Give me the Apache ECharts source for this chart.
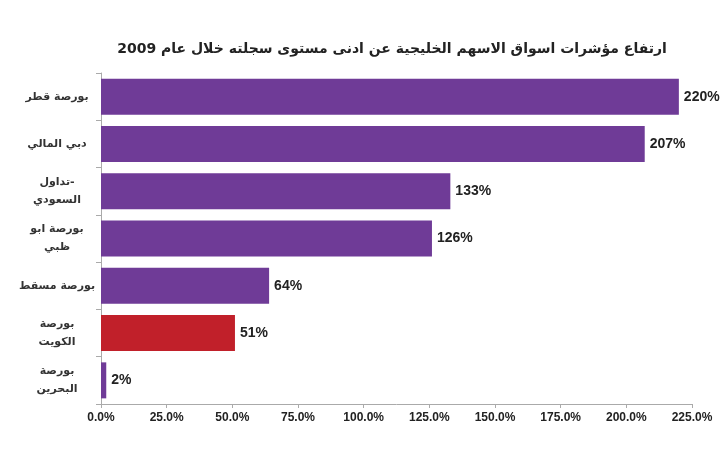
<!DOCTYPE html>
<html>
<head>
<meta charset="utf-8">
<script src="https://cdn.jsdelivr.net/npm/echarts@6/dist/echarts.min.js"></script>
<style>
  html, body { margin: 0; padding: 0; background: #fff; }
  #chart { width: 722px; height: 450px; }
</style>
</head>
<body>
<div id="chart"></div>
<script>
// 市场名称（从上到下）
let markets = ['بورصة قطر', 'دبي المالي', 'تداول-\nالسعودي', 'بورصة ابو\nظبي', 'بورصة مسقط', 'بورصة\nالكويت', 'بورصة\nالبحرين']
// 涨幅 %
let rises = [220, 207, 133, 126, 64, 51, 2]
// 需要高亮的市场
let highlighted = ['بورصة\nالكويت']
let xTicks = [0, 25, 50, 75, 100, 125, 150, 175, 200, 225]

let purple = '#6f3b97'
let red = '#c1202a'

let chart = echarts.init(document.getElementById('chart'))
chart.setOption({
  animation: false,
  title: {
    text: 'ارتفاع مؤشرات اسواق الاسهم الخليجية عن ادنى مستوى سجلته خلال عام 2009',
    left: 387,
    textAlign: 'center',
    top: 37,
    textStyle: { fontFamily: 'DejaVu Sans', fontSize: 14, fontWeight: 'bold', color: '#222' }
  },
  grid: { left: 101, right: 30, top: 73, bottom: 46 },
  xAxis: {
    type: 'value',
    min: xTicks[0],
    max: xTicks[xTicks.length - 1],
    interval: 25,
    splitLine: { show: false },
    axisLine: { show: true, lineStyle: { color: '#aaa' } },
    axisTick: { show: true, length: 4, lineStyle: { color: '#aaa' } },
    axisLabel: {
      margin: 8,
      fontFamily: 'Liberation Sans',
      fontSize: 12,
      fontWeight: 'bold',
      color: '#222',
      formatter: v => v.toFixed(1) + '%'
    }
  },
  yAxis: {
    type: 'category',
    inverse: true,
    data: markets,
    axisLine: { show: true, lineStyle: { color: '#aaa' } },
    axisTick: { show: true, length: 5, lineStyle: { color: '#aaa' } },
    axisLabel: {
      align: 'center',
      margin: 44,
      lineHeight: 18,
      fontFamily: 'DejaVu Sans',
      fontSize: 11,
      fontWeight: 'bold',
      color: '#333'
    }
  },
  series: [
    {
      type: 'bar',
      barWidth: 36,
      data: rises.map((v, i) => ({
        value: v,
        itemStyle: { color: highlighted.includes(markets[i]) ? red : purple }
      })),
      label: {
        show: true,
        position: 'right',
        distance: 5,
        fontFamily: 'Liberation Sans',
        fontSize: 14,
        fontWeight: 'bold',
        color: '#222',
        formatter: p => p.value + '%'
      }
    }
  ]
})
</script>
</body>
</html>
